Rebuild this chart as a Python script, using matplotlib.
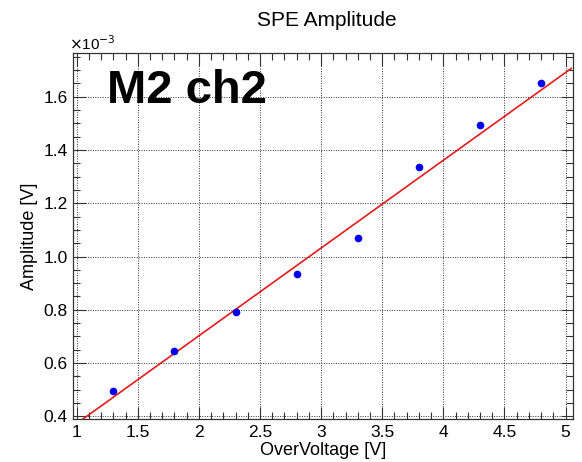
import numpy as np
import matplotlib.pyplot as plt
from matplotlib.ticker import MultipleLocator

plt.rcParams['font.family'] = ['Liberation Sans', 'DejaVu Sans']

# ── Dados ────────────────────────────────────────────────────────────────────
overvoltage = [1.3, 1.8, 2.3, 2.8, 3.3, 3.8, 4.3, 4.8]               # [V]
amplitude   = [0.497, 0.644, 0.790, 0.936, 1.071, 1.337, 1.495, 1.650]  # [x1e-3 V]
rotulo      = 'M2 ch2'

# parâmetros do ajuste linear (pol1)
p0, p1 = 0.0436, 0.3294
faixa_fit = [1.0, 5.047]

x_fit = np.linspace(faixa_fit[0], faixa_fit[1], 200)
y_fit = p0 + p1 * x_fit

# ── Figura ───────────────────────────────────────────────────────────────────
fig = plt.figure(figsize=(5.82, 4.62), dpi=100)
ax = fig.add_axes([0.1254, 0.093, 0.859, 0.793])

ax.plot(x_fit, y_fit, color='#e41a1c', lw=1.2, zorder=3)
ax.plot(overvoltage, amplitude, 'o', color='#0000ee', ms=4.5, zorder=4)

ax.set_xlim(0.97, 5.06)
ax.set_ylim(0.39, 1.765)

ax.xaxis.set_minor_locator(MultipleLocator(0.1))
ax.yaxis.set_minor_locator(MultipleLocator(0.05))
ax.set_xticks([1, 1.5, 2, 2.5, 3, 3.5, 4, 4.5, 5])
ax.set_xticklabels(['1', '1.5', '2', '2.5', '3', '3.5', '4', '4.5', '5'])
ax.set_yticks([0.4, 0.6, 0.8, 1.0, 1.2, 1.4, 1.6])
ax.set_yticklabels(['0.4', '0.6', '0.8', '1.0', '1.2', '1.4', '1.6'])

ax.tick_params(which='both', direction='in', top=True, right=True,
               labelsize=12.5, color='#333333', width=0.8)
ax.tick_params(which='major', length=9, pad=4)
ax.tick_params(which='minor', length=5)

ax.grid(True, which='major', color='#333333', ls=(0, (1, 1.5)), lw=0.7)
for s in ax.spines.values():
    s.set_linewidth(0.9)
    s.set_color('#333333')

ax.set_xlabel('OverVoltage [V]', fontsize=13, labelpad=2)
ax.set_ylabel('Amplitude [V]', fontsize=13, labelpad=4)
fig.text(0.562, 0.955, 'SPE Amplitude', ha='center', va='center', fontsize=15)
fig.text(0.118, 0.886, r'$\times$10$^{-3}$', ha='left', va='bottom', fontsize=11)

ax.text(1.25, 1.62, rotulo, fontsize=34, fontweight='bold',
        ha='left', va='center', zorder=5)

fig.savefig('out.png', dpi=100)
